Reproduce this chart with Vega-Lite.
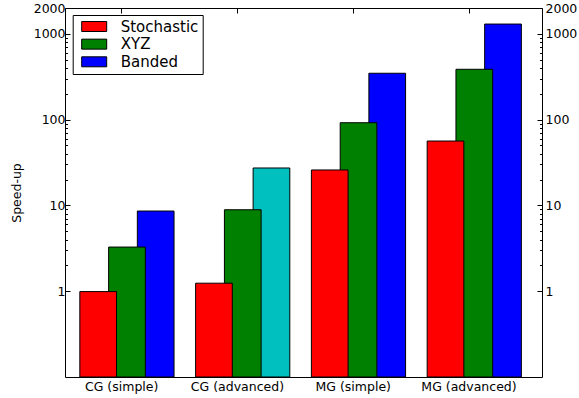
{
  "$schema": "https://vega.github.io/schema/vega-lite/v6.json",
  "width": 477,
  "height": 369,
  "autosize": {"type": "none"},
  "padding": {"left": 65, "top": 8, "right": 37, "bottom": 21},
  "background": "white",
  "config": {
    "font": "DejaVu Sans",
    "view": {"stroke": "black", "strokeWidth": 1},
    "axis": {
      "domain": false,
      "grid": false,
      "labelFont": "DejaVu Sans",
      "labelFontSize": 12.5,
      "labelColor": "black",
      "tickColor": "black",
      "tickWidth": 1,
      "titleFont": "DejaVu Sans",
      "titleFontSize": 12.5,
      "titleFontWeight": "normal",
      "titleColor": "black"
    },
    "legend": {
      "orient": "none",
      "legendX": 7.7,
      "legendY": 7,
      "fillColor": "white",
      "strokeColor": "black",
      "strokeWidth": 1,
      "cornerRadius": 0,
      "padding": 4,
      "labelFont": "DejaVu Sans",
      "labelFontSize": 15,
      "labelColor": "black",
      "symbolType": "M-0.5,-1H4.5V1H-0.5Z",
      "symbolSize": 100,
      "symbolStrokeColor": "black",
      "symbolStrokeWidth": 1,
      "symbolOpacity": 1,
      "rowPadding": 1.65,
      "labelOffset": 29
    }
  },
  "data": {
    "values": [
      {"category": "CG (simple)", "series": "Stochastic", "value": 0.99},
      {"category": "CG (simple)", "series": "XYZ", "value": 3.27},
      {"category": "CG (simple)", "series": "Banded", "value": 8.6},
      {"category": "CG (advanced)", "series": "Stochastic", "value": 1.24},
      {"category": "CG (advanced)", "series": "XYZ", "value": 8.9},
      {"category": "CG (advanced)", "series": "Banded", "value": 27.3},
      {"category": "MG (simple)", "series": "Stochastic", "value": 25.9},
      {"category": "MG (simple)", "series": "XYZ", "value": 92},
      {"category": "MG (simple)", "series": "Banded", "value": 347},
      {"category": "MG (advanced)", "series": "Stochastic", "value": 56.3},
      {"category": "MG (advanced)", "series": "XYZ", "value": 386},
      {"category": "MG (advanced)", "series": "Banded", "value": 1300}
    ]
  },
  "layer": [
    {
      "transform": [{"filter": "datum.series === 'Banded'"}],
      "mark": {"type": "bar", "width": 36.7, "xOffset": 34, "stroke": "black", "strokeWidth": 1},
      "encoding": {
        "x": {
          "field": "category", "type": "nominal", "sort": null,
          "scale": {"paddingInner": 0.1, "paddingOuter": 0.11, "align": 0.18},
          "axis": {"orient": "bottom", "title": null, "labelAngle": 0, "tickSize": -5, "labelPadding": 8}
        },
        "y": {
          "field": "value", "type": "quantitative",
          "scale": {"type": "log", "domain": [0.1, 2000], "nice": false},
          "axis": {"orient": "left", "values": [1, 10, 100, 1000, 2000], "format": "d", "tickSize": -5, "labelPadding": 5, "title": "Speed-up", "titlePadding": 10}
        },
        "y2": {"datum": 0.1},
        "color": {
          "condition": {"test": "datum.category === 'CG (advanced)' && datum.series === 'Banded'", "value": "#00bfbf"},
          "field": "series", "type": "nominal",
          "scale": {"domain": ["Stochastic", "XYZ", "Banded"], "range": ["#ff0000", "#008000", "#0000ff"]},
          "legend": {"title": null}
        }
      }
    },
    {
      "transform": [{"filter": "datum.series === 'XYZ'"}],
      "mark": {"type": "bar", "width": 36.7, "xOffset": 5.3, "stroke": "black", "strokeWidth": 1},
      "encoding": {
        "x": {"field": "category", "type": "nominal", "sort": null, "axis": null},
        "y": {"field": "value", "type": "quantitative", "axis": null},
        "y2": {"datum": 0.1},
        "color": {"field": "series", "type": "nominal", "legend": {"title": null}}
      }
    },
    {
      "transform": [{"filter": "datum.series === 'Stochastic'"}],
      "mark": {"type": "bar", "width": 36.7, "xOffset": -23.5, "stroke": "black", "strokeWidth": 1},
      "encoding": {
        "x": {"field": "category", "type": "nominal", "sort": null, "axis": null},
        "y": {"field": "value", "type": "quantitative", "axis": null},
        "y2": {"datum": 0.1},
        "color": {"field": "series", "type": "nominal", "legend": {"title": null}}
      }
    },
    {
      "mark": {"type": "point", "opacity": 0},
      "encoding": {
        "y": {
          "field": "value", "type": "quantitative",
          "axis": {"orient": "right", "values": [1, 10, 100, 1000, 2000], "format": "d", "tickSize": -5, "labelPadding": 8, "title": null}
        }
      }
    },
    {
      "mark": {"type": "point", "opacity": 0},
      "encoding": {
        "y": {
          "field": "value", "type": "quantitative",
          "axis": {"orient": "left", "values": [2, 3, 4, 5, 6, 7, 8, 9, 20, 30, 40, 50, 60, 70, 80, 90, 200, 300, 400, 500, 600, 700, 800, 900], "labels": false, "tickSize": -2.5, "title": null}
        }
      }
    },
    {
      "mark": {"type": "point", "opacity": 0},
      "encoding": {
        "y": {
          "field": "value", "type": "quantitative",
          "axis": {"orient": "right", "values": [2, 3, 4, 5, 6, 7, 8, 9, 20, 30, 40, 50, 60, 70, 80, 90, 200, 300, 400, 500, 600, 700, 800, 900], "labels": false, "tickSize": -2.5, "title": null}
        }
      }
    },
    {
      "mark": {"type": "point", "opacity": 0},
      "encoding": {
        "x": {
          "field": "category", "type": "nominal", "sort": null,
          "axis": {"orient": "top", "labels": false, "tickSize": -5, "title": null}
        }
      }
    }
  ],
  "resolve": {"axis": {"x": "independent", "y": "independent"}}
}
